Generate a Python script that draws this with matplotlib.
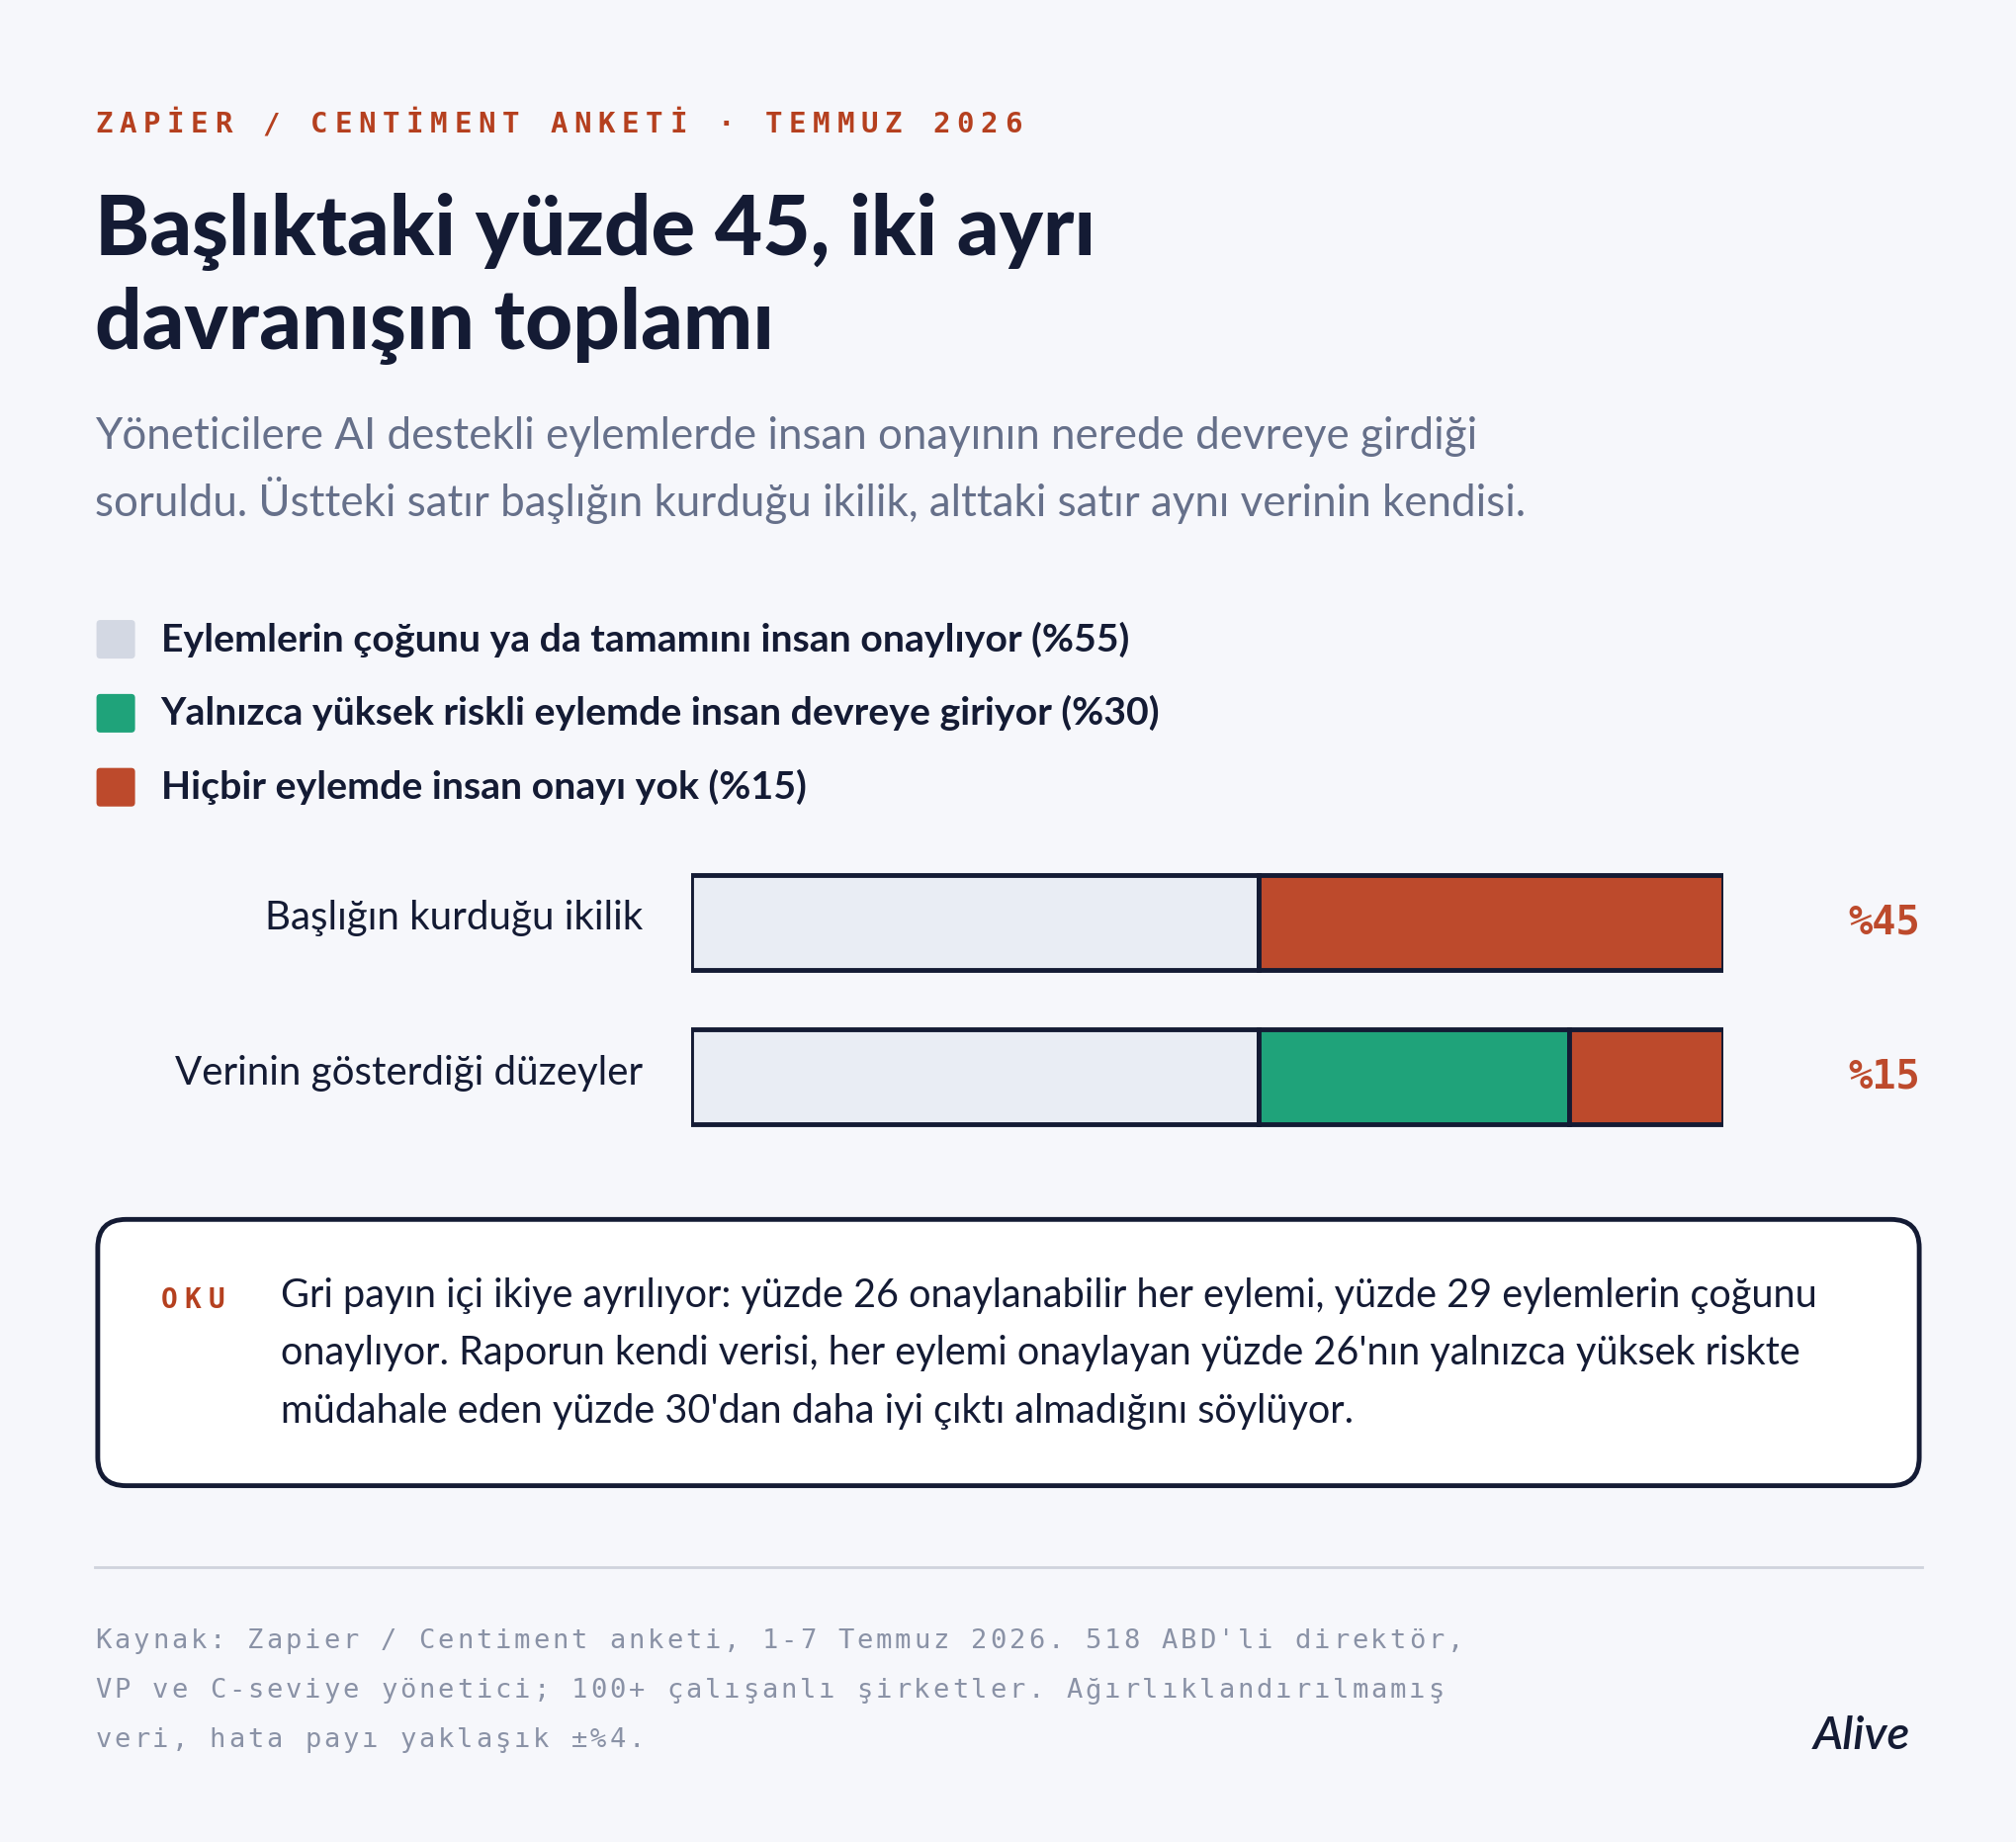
import matplotlib
matplotlib.use("Agg")
import matplotlib.pyplot as plt
from matplotlib.patches import FancyBboxPatch

rows = ["Başlığın kurduğu ikilik", "Verinin gösterdiği düzeyler"]
seg_top = [55, 45]
seg_bot = [55, 30, 15]
row_values = ["%45", "%15"]
legend_labels = ["Eylemlerin çoğunu ya da tamamını insan onaylıyor (%55)",
                 "Yalnızca yüksek riskli eylemde insan devreye giriyor (%30)",
                 "Hiçbir eylemde insan onayı yok (%15)"]

BG = "#f6f7fb"; DARK = "#141b34"; GRAY = "#e9edf4"; GREEN = "#1fa37a"; RED = "#bd4a2c"
LEGC = "#d3d8e3"; SUB = "#66708a"; FOOT = "#8a92a6"; KICK = "#b5401f"
W, H = 1568, 1432
fig = plt.figure(figsize=(20.4, 18.63), dpi=100, facecolor=BG)
ax = fig.add_axes([0, 0, 1, 1]); ax.set_xlim(0, W); ax.set_ylim(H, 0); ax.axis("off")
SANS = ["Lato", "DejaVu Sans"]; MONO = ["DejaVu Sans Mono"]

def spaced(x, y, s, pitch, **kw):
    for k, ch in enumerate(s):
        ax.text(x + k * pitch, y, ch, family=MONO, va="center", ha="left", **kw)

spaced(74, 97, "ZAPİER / CENTİMENT ANKETİ · TEMMUZ 2026", 18.6, weight="bold", fontsize=21, color=KICK)
ax.text(74, 180, "Başlıktaki yüzde 45, iki ayrı", family=SANS, weight="black", fontsize=60, color=DARK, va="center")
ax.text(74, 253, "davranışın toplamı", family=SANS, weight="black", fontsize=60, color=DARK, va="center")
ax.text(74, 339, "Yöneticilere AI destekli eylemlerde insan onayının nerede devreye girdiği", family=SANS,
        fontsize=31.6, color=SUB, va="center")
ax.text(74, 389, "soruldu. Üstteki satır başlığın kurduğu ikilik, alttaki satır aynı verinin kendisi.", family=SANS,
        fontsize=31.6, color=SUB, va="center")

for i, (lab, c) in enumerate(zip(legend_labels, [LEGC, GREEN, RED])):
    y = 497 + i * 57.5
    ax.add_patch(FancyBboxPatch((75, y - 15), 30, 30, boxstyle="round,pad=0,rounding_size=3", fc=c, ec="none"))
    ax.text(125, y, lab, family=SANS, weight="bold", fontsize=28.3, color=DARK, va="center")

for lab, y, v in zip(rows, [717, 837], row_values):
    ax.text(500, y - 3, lab, family=SANS, fontsize=29, color=DARK, va="center", ha="right")
    ax.text(1493, y, v, family=MONO, weight="bold", fontsize=29, color=RED, va="center", ha="right")

ax.add_patch(FancyBboxPatch((76, 948), 1416, 207, boxstyle="round,pad=0,rounding_size=22",
                            fc="white", ec=DARK, lw=3.5))
spaced(125, 1011, "OKU", 18.5, weight="bold", fontsize=20, color=KICK)
for j, t in enumerate(["Gri payın içi ikiye ayrılıyor: yüzde 26 onaylanabilir her eylemi, yüzde 29 eylemlerin çoğunu",
                       "onaylıyor. Raporun kendi verisi, her eylemi onaylayan yüzde 26'nın yalnızca yüksek riskte",
                       "müdahale eden yüzde 30'dan daha iyi çıktı almadığını söylüyor."]):
    ax.text(218, 1007 + j * 45, t, family=SANS, fontsize=28.5, color=DARK, va="center")

ax.plot([74, 1494], [1218, 1218], color="#cfd3dc", lw=2)
for j, t in enumerate(["Kaynak: Zapier / Centiment anketi, 1-7 Temmuz 2026. 518 ABD'li direktör,",
                       "VP ve C-seviye yönetici; 100+ çalışanlı şirketler. Ağırlıklandırılmamış",
                       "veri, hata payı yaklaşık ±%4."]):
    spaced(74, 1276 + j * 38.5, t, 14.8, fontsize=19.5, color=FOOT)
ax.text(1485, 1350, "Alive", family=SANS, weight="semibold", style="italic", fontsize=34, color=DARK,
        va="center", ha="right")

# bars
bx = fig.add_axes([537 / W, 1 - 876 / H, (1340 - 537) / W, (876 - 678) / H])
bx.set_xlim(0, 100); bx.set_ylim(1.325, -0.325); bx.axis("off")
for yi, segs, cols in [(0, seg_top, [GRAY, RED]), (1, seg_bot, [GRAY, GREEN, RED])]:
    left = 0
    for s, c in zip(segs, cols):
        bx.barh(yi, s, left=left, height=0.617, color=c, edgecolor=DARK, linewidth=3.5)
        left += s
fig.savefig("out.png", dpi=100, facecolor=BG)
